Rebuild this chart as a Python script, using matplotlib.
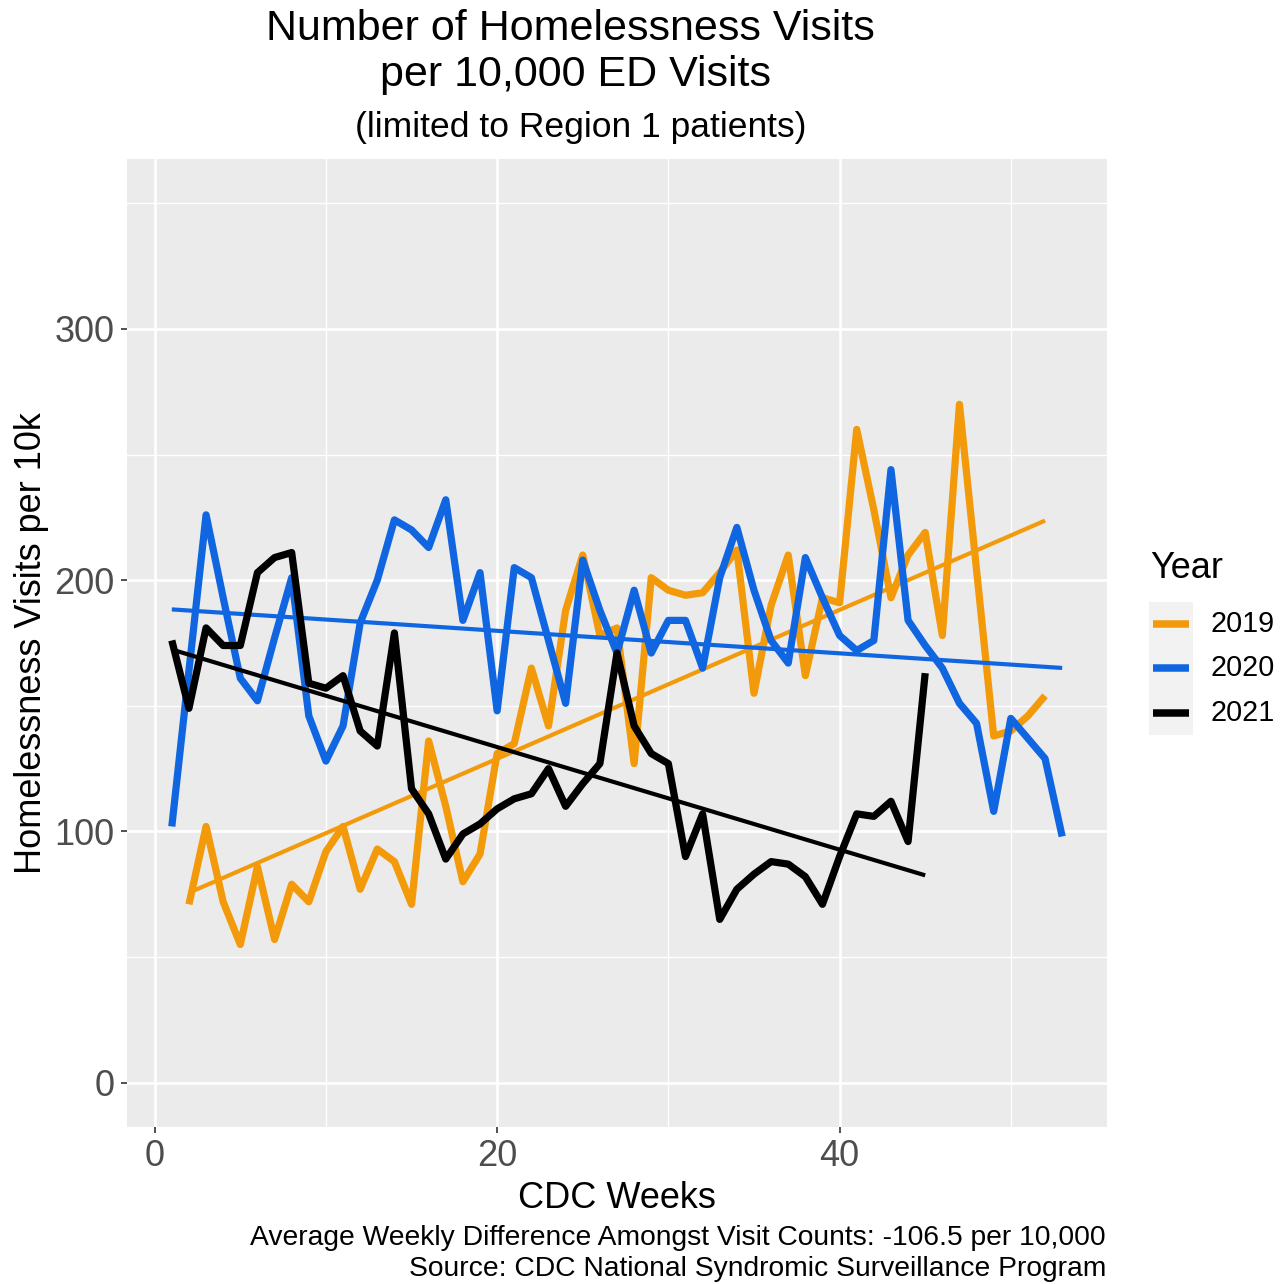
import matplotlib.pyplot as plt
import numpy as np
from matplotlib.patches import Rectangle
from matplotlib.lines import Line2D

plt.rcParams['font.family'] = ['Liberation Sans', 'DejaVu Sans']

# weekly rates
weeks_2019 = list(range(2, 53))
vals_2019 = [71, 102, 72, 55, 86, 57, 79, 72, 92, 102, 77, 93, 88, 71, 136, 110,
             80, 91, 131, 135, 165, 142, 188, 210, 178, 181, 127, 201, 196, 194,
             195, 203, 212, 155, 190, 210, 162, 193, 191, 260, 228, 193, 210, 219,
             178, 270, 204, 138, 140, 146, 154]

weeks_2020 = list(range(1, 54))
vals_2020 = [102, 164, 226, 193, 161, 152, 177, 201, 146, 128, 142, 183, 200, 224,
             220, 213, 232, 184, 203, 148, 205, 201, 176, 151, 208, 188, 171, 196,
             171, 184, 184, 165, 201, 221, 196, 176, 167, 209, 193, 178, 172, 176,
             244, 184, 174, 165, 151, 143, 108, 145, 137, 129, 98]

weeks_2021 = list(range(1, 46))
vals_2021 = [176, 149, 181, 174, 174, 203, 209, 211, 159, 157, 162, 140, 134, 179,
             117, 107, 89, 99, 103, 109, 113, 115, 125, 110, 119, 127, 171, 142,
             131, 127, 90, 107, 65, 77, 83, 88, 87, 82, 71, 90, 107, 106, 112, 96,
             163]

years = ['2019', '2020', '2021']
colors = ['#F39A0B', '#1066E0', '#000000']
series = [(weeks_2019, vals_2019), (weeks_2020, vals_2020), (weeks_2021, vals_2021)]

W, H = 1283, 1284
fig = plt.figure(figsize=(W / 100, H / 100), dpi=100)
ax = fig.add_axes([127.3 / W, 1 - 1126.7 / H, (1106.7 - 127.3) / W, (1126.7 - 159.3) / H])
ax.set_facecolor('#EBEBEB')

for (wk, v), c in zip(series, colors):
    wk = np.array(wk)
    v = np.array(v)
    ax.plot(wk, v, color=c, lw=5.2, solid_joinstyle='round', solid_capstyle='butt', zorder=3)
    slope, icpt = np.polyfit(wk, v, 1)
    xs = np.array([wk.min(), wk.max()])
    ax.plot(xs, slope * xs + icpt, color=c, lw=3.0, solid_capstyle='butt', zorder=3)

ax.set_xlim(-1.6, 55.6)
ax.set_ylim(-17.5, 367.5)
ax.set_xticks([0, 20, 40])
ax.set_xticks([10, 30, 50], minor=True)
ax.set_yticks([0, 100, 200, 300])
ax.set_yticks([50, 150, 250, 350], minor=True)
ax.grid(which='major', color='white', lw=1.9)
ax.grid(which='minor', color='white', lw=1.0)
ax.set_axisbelow(True)
for s in ax.spines.values():
    s.set_visible(False)
ax.tick_params(which='major', length=4.6, width=1.2, color='#333333',
               labelsize=26, labelcolor='#4D4D4D', pad=4.5)
ax.tick_params(which='minor', length=0)

ax.set_xlabel('CDC Weeks', fontsize=26, labelpad=5)
ax.set_ylabel('Homelessness Visits per 10k', fontsize=26, labelpad=4)

fig.text(570 / W, 1 - 29 / H, 'Number of Homelessness Visits', ha='center', va='center', fontsize=31)
fig.text(576 / W, 1 - 75 / H, 'per 10,000 ED Visits', ha='center', va='center', fontsize=31)
fig.text(581 / W, 1 - 127 / H, '(limited to Region 1 patients)', ha='center', va='center', fontsize=25.5)

fig.text(1106 / W, 1 - 1238 / H,
         'Average Weekly Difference Amongst Visit Counts: -106.5 per 10,000',
         ha='right', va='center', fontsize=20.35)
fig.text(1106 / W, 1 - 1269 / H,
         'Source: CDC National Syndromic Surveillance Program',
         ha='right', va='center', fontsize=20.35)

# legend
fig.text(1150 / W, 1 - 569 / H, 'Year', ha='left', va='center', fontsize=26)
fig.add_artist(Rectangle((1149 / W, 1 - 735 / H), 44 / W, 133 / H,
                         transform=fig.transFigure, facecolor='#F2F2F2', edgecolor='none'))
for i, (yr, c) in enumerate(zip(years, colors)):
    yy = 1 - (624 + 44.4 * i) / H
    fig.add_artist(Line2D([1153 / W, 1189 / W], [yy, yy], transform=fig.transFigure,
                          color=c, lw=5.4, solid_capstyle='butt'))
    fig.text(1211 / W, yy, yr, ha='left', va='center', fontsize=20.7)

fig.savefig('out.png', dpi=100)
